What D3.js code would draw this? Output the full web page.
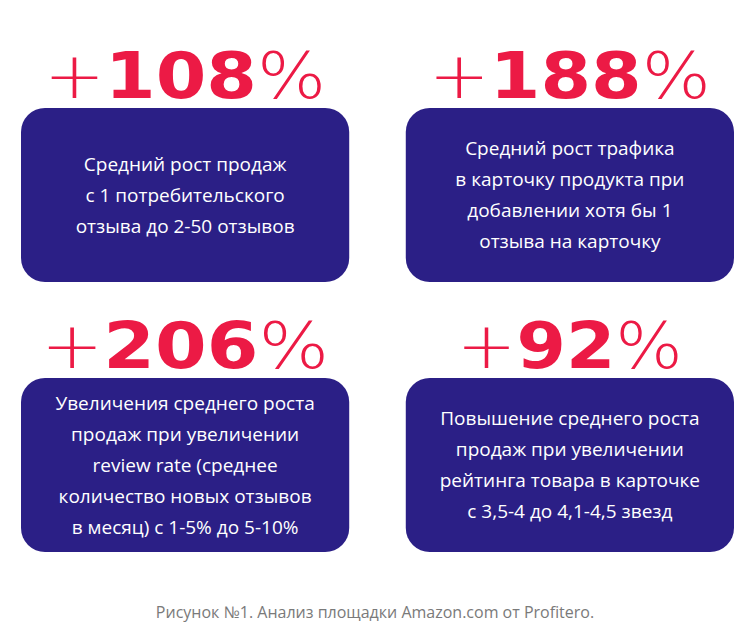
<!DOCTYPE html>
<html><head><meta charset="utf-8">
<script src="https://cdn.jsdelivr.net/npm/d3@7"></script>
<style>body{margin:0;background:#fff}</style></head>
<body><svg id="c" width="750" height="638"></svg>
<script>
// ---- Data ----
const values = [108, 188, 206, 92];
const numberWidths = [282, 282, 288, 226];
const descriptions = [
  ['Средний рост продаж', 'с 1 потребительского', 'отзыва до 2-50 отзывов'],
  ['Средний рост трафика', 'в карточку продукта при', 'добавлении хотя бы 1', 'отзыва на карточку'],
  ['Увеличения среднего роста', 'продаж при увеличении', 'review rate (среднее', 'количество новых отзывов', 'в месяц) с 1-5% до 5-10%'],
  ['Повышение среднего роста', 'продаж при увеличении', 'рейтинга товара в карточке', 'с 3,5-4 до 4,1-4,5 звезд']
];
const caption = 'Рисунок №1. Анализ площадки Amazon.com от Profitero.';

const svg = d3.select('#c');
const x = d3.scaleBand().domain([0, 1]).range([21, 734]).paddingInner(0.147);
const y = d3.scaleOrdinal().domain([0, 1]).range([108, 378]);
const boxH = 174;

const cells = svg.selectAll('g.cell').data(values).enter().append('g')
  .attr('transform', function (d, i) { return 'translate(' + x(i % 2) + ',' + y(Math.floor(i / 2)) + ')'; });

cells.append('rect')
  .attr('width', x.bandwidth()).attr('height', boxH)
  .attr('rx', 24).attr('fill', '#2b1f86');

cells.append('text')
  .attr('x', x.bandwidth() / 2).attr('y', -10)
  .attr('text-anchor', 'middle')
  .attr('fill', '#ec1a45')
  .attr('font-family', 'DejaVu Sans, sans-serif')
  .attr('font-size', 64)
  .attr('textLength', function (d, i) { return numberWidths[i]; })
  .attr('lengthAdjust', 'spacingAndGlyphs')
  .each(function (d) {
    const t = d3.select(this);
    t.append('tspan').attr('font-weight', 200).text('+');
    t.append('tspan').attr('font-weight', 'bold').text(d);
    t.append('tspan').attr('font-weight', 200).text('%');
  });

cells.each(function (d, i) {
  const lines = descriptions[i];
  const lh = 31;
  const y0 = boxH / 2 - (lines.length - 1) * lh / 2;
  d3.select(this).selectAll('text.desc').data(lines).enter().append('text')
    .attr('class', 'desc')
    .attr('x', x.bandwidth() / 2)
    .attr('y', function (l, j) { return y0 + j * lh; })
    .attr('dy', '0.35em')
    .attr('text-anchor', 'middle')
    .attr('fill', '#fff')
    .attr('font-family', 'Open Sans, sans-serif')
    .attr('font-size', 19)
    .text(function (l) { return l; });
});

svg.append('text')
  .attr('x', 375).attr('y', 612).attr('dy', '0.35em')
  .attr('text-anchor', 'middle')
  .attr('fill', '#7a7a7a')
  .attr('font-family', 'Open Sans, sans-serif')
  .attr('font-size', 16)
  .text(caption);
</script></body></html>
